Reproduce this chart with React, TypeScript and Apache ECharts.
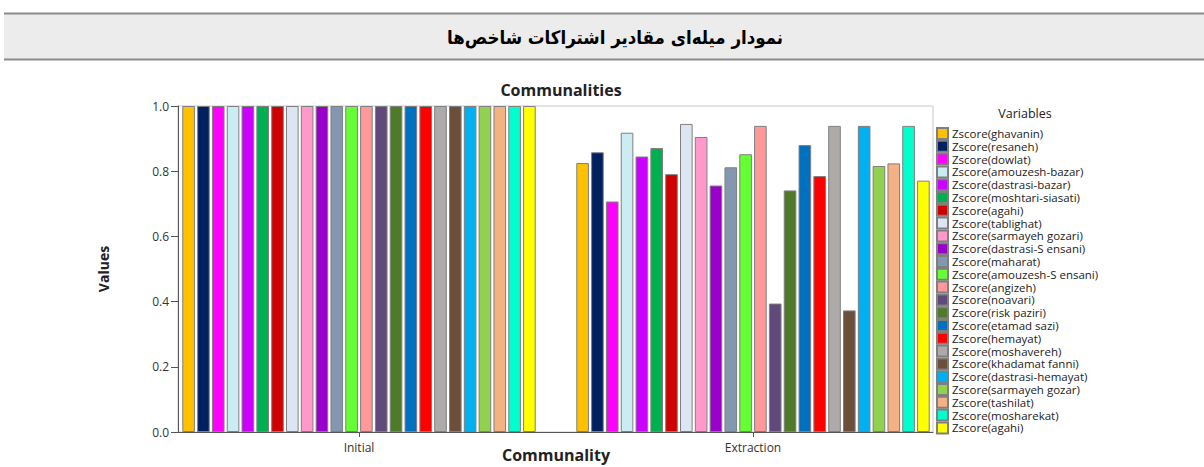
import React, { useEffect, useRef } from "react";
import * as echarts from "echarts";

const pageTitle = "نمودار میله\u200cای مقادیر اشتراکات شاخص\u200cها";
const chartTitle = "Communalities";
const legendTitle = "Variables";
const categories = ["Initial", "Extraction"];
const yTicks = [0, 0.2, 0.4, 0.6, 0.8, 1.0];

const variableNames = [
  "Zscore(ghavanin)",
  "Zscore(resaneh)",
  "Zscore(dowlat)",
  "Zscore(amouzesh-bazar)",
  "Zscore(dastrasi-bazar)",
  "Zscore(moshtari-siasati)",
  "Zscore(agahi)",
  "Zscore(tablighat)",
  "Zscore(sarmayeh gozari)",
  "Zscore(dastrasi-S ensani)",
  "Zscore(maharat)",
  "Zscore(amouzesh-S ensani)",
  "Zscore(angizeh)",
  "Zscore(noavari)",
  "Zscore(risk paziri)",
  "Zscore(etamad sazi)",
  "Zscore(hemayat)",
  "Zscore(moshavereh)",
  "Zscore(khadamat fanni)",
  "Zscore(dastrasi-hemayat)",
  "Zscore(sarmayeh gozar)",
  "Zscore(tashilat)",
  "Zscore(mosharekat)",
  "Zscore(agahi)",
];

const initialValues = [
  1.0, 1.0, 1.0, 1.0, 1.0, 1.0, 1.0, 1.0, 1.0, 1.0, 1.0, 1.0,
  1.0, 1.0, 1.0, 1.0, 1.0, 1.0, 1.0, 1.0, 1.0, 1.0, 1.0, 1.0,
];

const extractionValues = [
  0.825, 0.858, 0.707, 0.918, 0.845, 0.871, 0.791, 0.945, 0.905, 0.756, 0.812, 0.852,
  0.939, 0.394, 0.741, 0.880, 0.785, 0.939, 0.373, 0.939, 0.816, 0.824, 0.939, 0.771,
];

const barColors = [
  "#FFC000", "#002060", "#FF00FF", "#CCECF4", "#CC00FF", "#00B050",
  "#D00000", "#DCE6F2", "#FF99CC", "#9900CC", "#8497B0", "#66FF33",
  "#FF9999", "#604A7B", "#4F7A28", "#0070C0", "#FF0000", "#AEAAAA",
  "#6B4F3A", "#00B0F0", "#92D050", "#F4B183", "#00FFCC", "#FFFF00",
];

export default function App() {
  const ref = useRef<HTMLDivElement>(null);

  useEffect(() => {
    if (!ref.current) return;
    const chart = echarts.init(ref.current, null, { renderer: "svg" });

    const seriesNames = variableNames.map((n, i) => `${n}|${i}`);

    const series = variableNames.map((_, i) => ({
      type: "bar",
      name: seriesNames[i],
      xAxisIndex: 0,
      yAxisIndex: 0,
      data: [initialValues[i], extractionValues[i]],
      barGap: "17.5%",
      barCategoryGap: "10.3%",
      itemStyle: {
        color: barColors[i],
        borderColor: "#7f7f7f",
        borderWidth: 1,
      },
      emphasis: { disabled: true },
    }));

    const option = {
      animation: false,
      backgroundColor: "#ffffff",
      title: [
        {
          text: chartTitle,
          left: 556,
          top: 77,
          textAlign: "center",
          textStyle: {
            fontFamily: "Open Sans",
            fontWeight: "bold",
            fontSize: 16,
            color: "#222",
          },
        },
        {
          text: legendTitle,
          left: 1020,
          top: 102,
          textAlign: "center",
          textStyle: {
            fontFamily: "Open Sans",
            fontWeight: "normal",
            fontSize: 12.5,
            color: "#222",
          },
        },
      ],
      legend: {
        orient: "vertical",
        left: 936,
        top: 127,
        padding: 0,
        itemWidth: 11,
        itemHeight: 11,
        itemGap: -0.2,
        icon: "rect",
        selectedMode: false,
        data: seriesNames,
        formatter: (name: string) => name.split("|")[0],
        textStyle: {
          fontFamily: "Open Sans",
          fontSize: 11.5,
          lineHeight: 11,
          color: "#222",
          padding: [0, 0, 0, -1],
        },
      },
      grid: [
        {
          left: 162,
          width: 788,
          top: 106,
          height: 326,
          outerBoundsMode: "none",
          containLabel: false,
        },
        {
          left: 178,
          width: 755,
          top: 106,
          height: 326,
          show: true,
          borderColor: "#c8c8c8",
          borderWidth: 1,
          outerBoundsMode: "none",
          containLabel: false,
        },
      ],
      xAxis: [
        {
          gridIndex: 0,
          type: "category",
          data: categories,
          axisLine: { show: false },
          axisTick: {
            show: true,
            alignWithLabel: true,
            length: 5,
            lineStyle: { color: "#555" },
          },
          axisLabel: {
            color: "#333",
            fontSize: 12,
            fontFamily: "Open Sans",
            margin: 9,
          },
          name: "Communality",
          nameLocation: "middle",
          nameGap: 15,
          nameMoveOverlap: false,
          nameTextStyle: {
            fontFamily: "Open Sans",
            fontWeight: "bold",
            fontSize: 16,
            lineHeight: 16,
            color: "#222",
          },
        },
        {
          gridIndex: 1,
          type: "value",
          min: 0,
          max: 1,
          axisLine: { show: true, lineStyle: { color: "#555", width: 1 } },
          axisTick: { show: false },
          axisLabel: { show: false },
          splitLine: { show: false },
        },
      ],
      yAxis: [
        {
          gridIndex: 0,
          type: "value",
          min: 0,
          max: 1,
          show: false,
          splitLine: { show: false },
        },
        {
          gridIndex: 1,
          type: "value",
          min: 0,
          max: 1,
          interval: 0.2,
          axisLine: { show: true, lineStyle: { color: "#555", width: 1 } },
          axisTick: { show: true, length: 7, lineStyle: { color: "#555" } },
          axisLabel: {
            color: "#333",
            fontSize: 12,
            fontFamily: "Open Sans",
            margin: 9,
            formatter: (v: number) =>
              yTicks.some((t) => Math.abs(t - v) < 1e-9) ? v.toFixed(1) : "",
          },
          splitLine: { show: false },
          name: "Values",
          nameLocation: "middle",
          nameGap: 68,
          nameMoveOverlap: false,
          nameRotate: 90,
          nameTextStyle: {
            fontFamily: "Open Sans",
            fontWeight: "bold",
            fontSize: 14,
            color: "#222",
          },
        },
      ],
      graphic: [
        {
          type: "rect",
          z: -1,
          shape: { x: 4, y: 13, width: 1200, height: 47 },
          style: { fill: "#ececec" },
        },
        {
          type: "line",
          shape: { x1: 4, y1: 13.5, x2: 1204, y2: 13.5 },
          style: { stroke: "#8a8a8a", lineWidth: 2 },
        },
        {
          type: "line",
          shape: { x1: 4, y1: 59.5, x2: 1204, y2: 59.5 },
          style: { stroke: "#8a8a8a", lineWidth: 2 },
        },
        {
          type: "text",
          x: 615,
          y: 37,
          style: {
            text: pageTitle,
            font: 'bold 18.5px "DejaVu Sans Condensed", "DejaVu Sans"',
            fill: "#000",
            align: "center",
            verticalAlign: "middle",
            textAlign: "center",
            textVerticalAlign: "middle",
          },
        },
      ],
      series,
    };

    chart.setOption(option as any);
    return () => {
      chart.dispose();
    };
  }, []);

  return (
    <div
      ref={ref}
      style={{
        position: "fixed",
        left: 0,
        top: 0,
        width: 1204,
        height: 467,
        background: "#fff",
      }}
    />
  );
}
